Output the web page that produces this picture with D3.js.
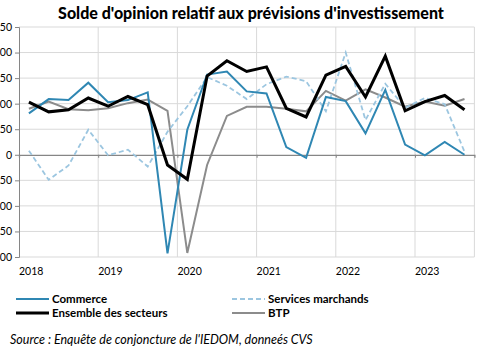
<!DOCTYPE html>
<html><head><meta charset="utf-8">
<script src="https://cdn.jsdelivr.net/npm/d3@7"></script>
<style>
body{margin:0;background:#fff;}
svg{display:block;font-family:Lato,"Open Sans",sans-serif;}
</style></head>
<body><svg id="c" width="485" height="360"></svg>
<script>
const years = ["2018","2019","2020","2021","2022","2023"];
const quarters = d3.range(23); // 2018T1 .. 2023T3
const commerce = [81,109,107,141,103,107,122,-193,49,157,163,124,120,15,-6,113,105,42,127,20,-1,25,0];
const ensemble = [103,84,88,111,95,114,98,-20,-48,154,184,163,172,91,74,156,173,113,193,86,104,116,88];
const services = [8,-49,-21,49,-1,10,-23,45,95,152,135,109,138,153,144,85,200,68,139,92,111,99,6];
const btp = [90,104,89,87,91,101,108,86,-192,-20,76,94,94,90,85,125,106,128,112,94,104,96,109];
const yTicks = [-200,-150,-100,-50,0,50,100,150,200,250];

const svg = d3.select("#c");
const L = 19, R = 474.4, T = 27, B = 257;
const x = d3.scaleLinear().domain([0, 23]).range([L, R]);
const y = d3.scaleLinear().domain([-200, 250]).range([B, T]);

// title
svg.append("text").attr("x", 251).attr("y", 19).attr("text-anchor", "middle")
  .attr("font-weight", "900").attr("font-size", 16).attr("fill", "#000")
  .text("Solde d'opinion relatif aux prévisions d'investissement");

// horizontal grid
svg.append("g").selectAll("line").data(yTicks.filter(d => d !== 0)).join("line")
  .attr("x1", L).attr("x2", R).attr("y1", d => y(d)).attr("y2", d => y(d))
  .attr("stroke", "#d9d9d9").attr("stroke-width", 1);
// vertical grid
const vTicks = [4, 8, 12, 16, 20, 23];
svg.append("g").selectAll("line").data(vTicks).join("line")
  .attr("x1", d => x(d)).attr("x2", d => x(d)).attr("y1", T).attr("y2", B)
  .attr("stroke", "#d9d9d9").attr("stroke-width", 1);

// y axis
const yAxis = d3.axisLeft(y).tickValues(yTicks).tickSize(4).tickPadding(3).tickFormat(d3.format("d"));
const ga = svg.append("g").attr("transform", `translate(${L},0)`).call(yAxis);
ga.select(".domain").attr("stroke", "#868686");
ga.selectAll(".tick line").attr("stroke", "#868686");
ga.selectAll("text").attr("font-size", 10.5).attr("fill", "#000").attr("font-family", "Lato, sans-serif");

// zero line with ticks
const gx = svg.append("g").attr("transform", `translate(0,${y(0)})`)
  .call(d3.axisBottom(x).tickValues([4, 8, 12, 16, 20]).tickSize(3).tickFormat(""));
gx.select(".domain").attr("stroke", "#868686").attr("stroke-width", 1.3);
gx.selectAll(".tick line").attr("stroke", "#868686");

// year labels
svg.append("g").selectAll("text").data(years).join("text")
  .attr("x", (d, i) => x(i * 4)).attr("y", 275).attr("font-size", 10.5).attr("fill", "#000")
  .text(d => d);

const line = d3.line().x((d, i) => x(i + 0.5)).y(d => y(d));
const series = [
  {name: "BTP", data: btp, color: "#8c8c8c", w: 2, dash: null},
  {name: "Services marchands", data: services, color: "#9cc6e0", w: 1.8, dash: "5,3"},
  {name: "Commerce", data: commerce, color: "#2f87b3", w: 2, dash: null},
  {name: "Ensemble des secteurs", data: ensemble, color: "#000", w: 3, dash: null}
];
svg.append("g").selectAll("path").data(series).join("path")
  .attr("d", d => line(d.data)).attr("fill", "none")
  .attr("stroke", d => d.color).attr("stroke-width", d => d.w)
  .attr("stroke-dasharray", d => d.dash).attr("stroke-linejoin", "miter");

// legend
const leg = [
  {s: series[2], lx: 16, ly: 299},
  {s: series[1], lx: 232, ly: 299},
  {s: series[3], lx: 16, ly: 313},
  {s: series[0], lx: 232, ly: 313}
];
const lg = svg.append("g");
leg.forEach(o => {
  lg.append("line").attr("x1", o.lx).attr("x2", o.lx + 33).attr("y1", o.ly).attr("y2", o.ly)
    .attr("stroke", o.s.color).attr("stroke-width", o.s.w).attr("stroke-dasharray", o.s.dash);
  lg.append("text").attr("x", o.lx + 36).attr("y", o.ly + 4).attr("font-size", 11.5)
    .attr("font-weight", "bold").attr("fill", "#000").text(o.s.name);
});

svg.append("text").attr("x", 10).attr("y", 344).attr("font-size", 12.5).attr("font-style", "italic")
  .attr("fill", "#000").text("Source : Enquête de conjoncture de l'IEDOM, donneés CVS");
</script></body></html>
